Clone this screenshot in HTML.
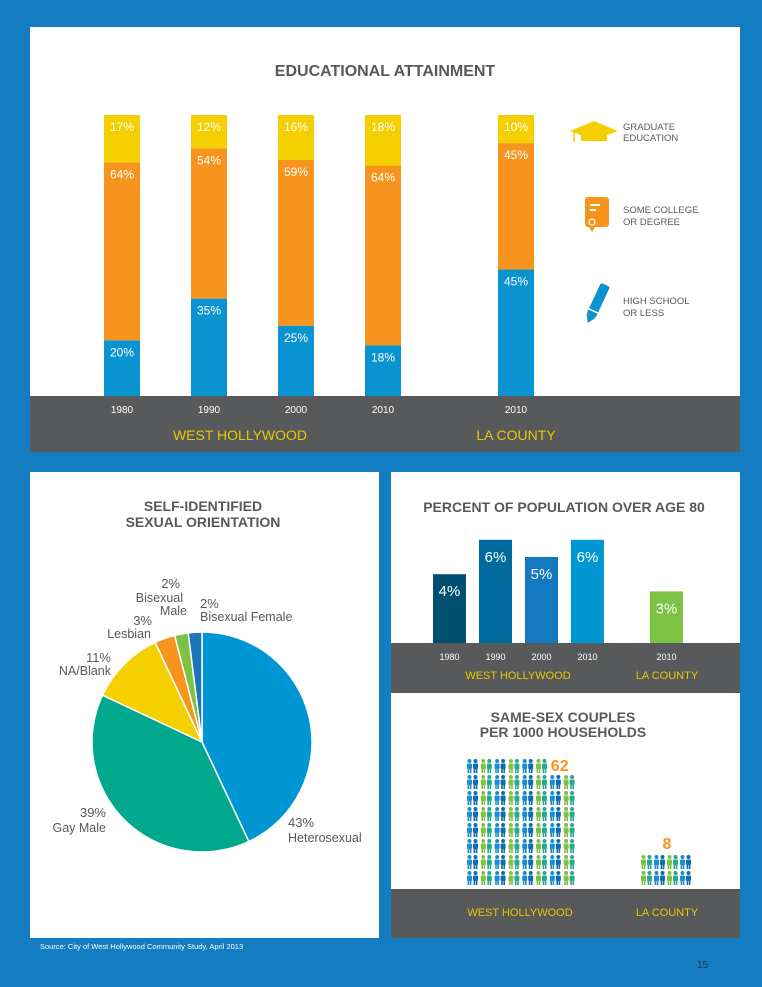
<!DOCTYPE html>
<html><head><meta charset="utf-8"><style>
html,body{margin:0;padding:0;background:#147cc0;}
svg{display:block;font-family:"Liberation Sans",Arial,sans-serif;}
</style></head><body>
<svg id="page" width="762" height="987" viewBox="0 0 762 987" xmlns="http://www.w3.org/2000/svg">
<rect x="0" y="0" width="762" height="987" fill="#147cc0"/>
<!-- top panel -->
<rect x="30" y="27" width="710" height="425" fill="#fff"/>
<rect x="30" y="396" width="710" height="56" fill="#58595b"/>
<text x="385" y="76" text-anchor="middle" font-size="16" font-weight="bold" fill="#58595b">EDUCATIONAL ATTAINMENT</text>
<text x="240" y="440" text-anchor="middle" font-size="14" fill="#e8c900">WEST HOLLYWOOD</text>
<text x="516" y="440" text-anchor="middle" font-size="14" fill="#e8c900">LA COUNTY</text>
<g id="edu"></g>
<!-- legend -->
<g>
<polygon points="570,131 594,121 618,131 594,140" fill="#f5d000"/>
<rect x="581" y="133" width="26" height="8" fill="#f5d000"/>
<line x1="574" y1="132" x2="574" y2="142" stroke="#f5d000" stroke-width="1.5"/>
<text x="623" y="130" font-size="9.5" fill="#58595b">GRADUATE</text>
<text x="623" y="141" font-size="9.5" fill="#58595b">EDUCATION</text>
</g>
<g>
<rect x="585" y="197" width="24" height="30" rx="3" fill="#f7941d"/>
<rect x="590" y="204" width="10" height="2" fill="#fff"/>
<rect x="590" y="209" width="6" height="2" fill="#fff"/>
<circle cx="592" cy="222" r="3" fill="none" stroke="#fff" stroke-width="1.2"/>
<polygon points="589,227 595,227 592,232" fill="#f7941d"/>
<text x="623" y="213" font-size="9.5" fill="#58595b">SOME COLLEGE</text>
<text x="623" y="225" font-size="9.5" fill="#58595b">OR DEGREE</text>
</g>
<g>
<g transform="translate(597,303) rotate(25)">
<rect x="-5" y="-20" width="10" height="34" rx="2" fill="#0a93d1"/>
<polygon points="-5,14 5,14 0,22" fill="#0a93d1"/>
<rect x="-5" y="8" width="10" height="1.5" fill="#fff"/>
</g>
<text x="623" y="304" font-size="9.5" fill="#58595b">HIGH SCHOOL</text>
<text x="623" y="316" font-size="9.5" fill="#58595b">OR LESS</text>
</g>

<!-- bottom-left panel -->
<rect x="30" y="472" width="349" height="466" fill="#fff"/>
<text x="203" y="511" text-anchor="middle" font-size="14" font-weight="bold" fill="#58595b">SELF-IDENTIFIED</text>
<text x="203" y="527" text-anchor="middle" font-size="14" font-weight="bold" fill="#58595b">SEXUAL ORIENTATION</text>
<g id="pie"></g>
<g font-size="12.5" fill="#58595b">
<text x="180" y="588" text-anchor="end" font-size="13">2%</text>
<text x="183" y="602" text-anchor="end">Bisexual</text>
<text x="187" y="615" text-anchor="end">Male</text>
<text x="200" y="608" font-size="13">2%</text>
<text x="200" y="621">Bisexual Female</text>
<text x="152" y="625" text-anchor="end" font-size="13">3%</text>
<text x="151" y="638" text-anchor="end">Lesbian</text>
<text x="111" y="662" text-anchor="end" font-size="13">11%</text>
<text x="111" y="675" text-anchor="end">NA/Blank</text>
<text x="106" y="817" text-anchor="end" font-size="13">39%</text>
<text x="106" y="832" text-anchor="end">Gay Male</text>
<text x="288" y="827" font-size="13">43%</text>
<text x="288" y="842">Heterosexual</text>
</g>

<!-- right panel -->
<rect x="391" y="472" width="349" height="466" fill="#fff"/>
<text x="564" y="512" text-anchor="middle" font-size="14" font-weight="bold" fill="#58595b">PERCENT OF POPULATION OVER AGE 80</text>
<rect x="391" y="643" width="349" height="50" fill="#58595b"/>
<text x="518" y="679" text-anchor="middle" font-size="11" fill="#e8c900">WEST HOLLYWOOD</text>
<text x="667" y="679" text-anchor="middle" font-size="11" fill="#e8c900">LA COUNTY</text>
<g id="age"></g>
<text x="563" y="722" text-anchor="middle" font-size="14" font-weight="bold" fill="#58595b">SAME-SEX COUPLES</text>
<text x="563" y="737" text-anchor="middle" font-size="14" font-weight="bold" fill="#58595b">PER 1000 HOUSEHOLDS</text>
<rect x="391" y="889" width="349" height="49" fill="#58595b"/>
<text x="520" y="916" text-anchor="middle" font-size="11" fill="#e8c900">WEST HOLLYWOOD</text>
<text x="667" y="916" text-anchor="middle" font-size="11" fill="#e8c900">LA COUNTY</text>
<g id="couples"></g>

<text x="40" y="949" font-size="7.5" fill="#fff">Source: City of West Hollywood Community Study, April 2013</text>
<text x="697" y="968" font-size="10" fill="#333">15</text>
</svg>
<script>
var NS='http://www.w3.org/2000/svg';
// Education data
var eduYears=['1980','1990','2000','2010','2010'];
var eduHighSchool=[20,35,25,18,45];
var eduCollege=[64,54,59,64,45];
var eduGraduate=[17,12,16,18,10];
// Age data
var ageYears=['1980','1990','2000','2010','2010'];
var ageValues=[4,6,5,6,3];
var ageLabels=['4%','6%','5%','6%','3%'];
// Pie data
var pieCategories=['Heterosexual','Gay Male','NA/Blank','Lesbian','Bisexual Male','Bisexual Female'];
var pieValues=[43,39,11,3,2,2];
// Couples data
var coupleGroups=['West Hollywood','LA County'];
var coupleValues=[62,8];

function el(tag,attrs,parent){var e=document.createElementNS(NS,tag);for(var k in attrs)e.setAttribute(k,attrs[k]);parent.appendChild(e);return e;}

// education
var edu=document.getElementById('edu');
function xEdu(i){return 104+i*87+(i>=4?46:0);}
var eduBase=396,eduH=281;
eduYears.forEach(function(yr,i){
  var tot=eduHighSchool[i]+eduCollege[i]+eduGraduate[i];
  function h(v){return v/tot*eduH;}
  var segs=[[eduHighSchool[i],'#0a93d1','high-school'],[eduCollege[i],'#f7941d','college'],[eduGraduate[i],'#f5d000','graduate']];
  var y=eduBase;
  segs.forEach(function(s){
    var hh=h(s[0]);y-=hh;
    var r=el('rect',{x:xEdu(i),y:y,width:36,height:hh,fill:s[1]},edu);
    
    
    var t=el('text',{x:xEdu(i)+18,y:y+16,'text-anchor':'middle','font-size':12,fill:'#fff'},edu);
    t.textContent=s[0]+'%';
    
    
  });
  var yl=el('text',{x:xEdu(i)+18,y:413,'text-anchor':'middle','font-size':10,fill:'#fff'},edu);
  yl.textContent=yr;
  
  
});

// age
var age=document.getElementById('age');
function xAge(i){return 433+i*46+(i>=4?33:0);}
function yAge(v){return 643-v*17.2;}
ageValues.forEach(function(v,i){
  var colors=['#004f71','#006a9c','#1479bf','#0095d3','#7dc242'];
  var r=el('rect',{x:xAge(i),y:yAge(v),width:33,height:643-yAge(v),fill:colors[i]},age);
  
  
  var t=el('text',{x:xAge(i)+16.5,y:yAge(v)+22,'text-anchor':'middle','font-size':15,fill:'#fff'},age);
  t.textContent=ageLabels[i];
  
  
  var yl=el('text',{x:xAge(i)+16.5,y:660,'text-anchor':'middle','font-size':9,fill:'#fff'},age);
  yl.textContent=ageYears[i];
  
  
});

// pie
var pie=document.getElementById('pie');
var cx=202,cy=742,R=110;
var pieColors=['#0095d3','#00a88e','#f5d000','#f7941d','#7dc242','#1a75bb'];
var tot=pieValues.reduce(function(a,b){return a+b;},0);
var a0=0;
pieValues.forEach(function(v,i){
  var a1=a0+v/tot*2*Math.PI;
  var x0=cx+R*Math.sin(a0),y0=cy-R*Math.cos(a0),x1=cx+R*Math.sin(a1),y1=cy-R*Math.cos(a1);
  var large=(a1-a0)>Math.PI?1:0;
  var p=el('path',{d:'M'+cx+','+cy+' L'+x0+','+y0+' A'+R+','+R+' 0 '+large+' 1 '+x1+','+y1+' Z',fill:pieColors[i],stroke:'#fff','stroke-width':1.5},pie);
  
  
  a0=a1;
});

// couples
var cg=document.getElementById('couples');
function person(x,y,c){
  el('circle',{cx:x+2.5,cy:y+2,r:2,fill:c},cg);
  el('rect',{x:x,y:y+4.5,width:5,height:5.5,rx:1,fill:c},cg);
  el('rect',{x:x+0.6,y:y+9.5,width:1.6,height:4.5,fill:c},cg);
  el('rect',{x:x+2.8,y:y+9.5,width:1.6,height:4.5,fill:c},cg);
}
function pair(x,y,k){
  var g=k%2===0?['#1a8fd0','#0b6eb0']:['#7dc242','#29a88e'];
  person(x,y,g[0]);person(x+6,y,g[1]);
}
function drawGroup(n,cols,x0,yBottom,offset){
  var rows=Math.ceil(n/cols);
  for(var k=0;k<n;k++){
    var idx=k+offset;
    var r=Math.floor(idx/cols),c=idx%cols;
    pair(x0+c*13.8,yBottom-(rows-r)*16,c+(x0>600?1:0));
  }
}
var nCols=[8,4];
var xStart=[467,641];
coupleValues.forEach(function(v,g){
  var cols=nCols[g];
  var rows=Math.ceil(v/cols);
  var offset=rows*cols-v;
  // fill bottom rows fully, top row partially from the left
  for(var k=0;k<v;k++){
    var r,c;
    if(k<cols-offset){r=0;c=k;}else{var kk=k-(cols-offset);r=1+Math.floor(kk/cols);c=kk%cols;}
    pair(xStart[g]+c*(g?13:13.8),887-(rows-r)*16,c+g);
  }
  var lastTopX=xStart[g]+(cols-offset)*(g?13:13.8);
  var t=el('text',{x:g?xStart[g]+26:lastTopX+1,y:g?849:771,'text-anchor':g?'middle':'start','font-size':16,'font-weight':'bold',fill:'#f7941d'},cg);
  t.textContent=String(v);
  
  
});
</script>
</body></html>
